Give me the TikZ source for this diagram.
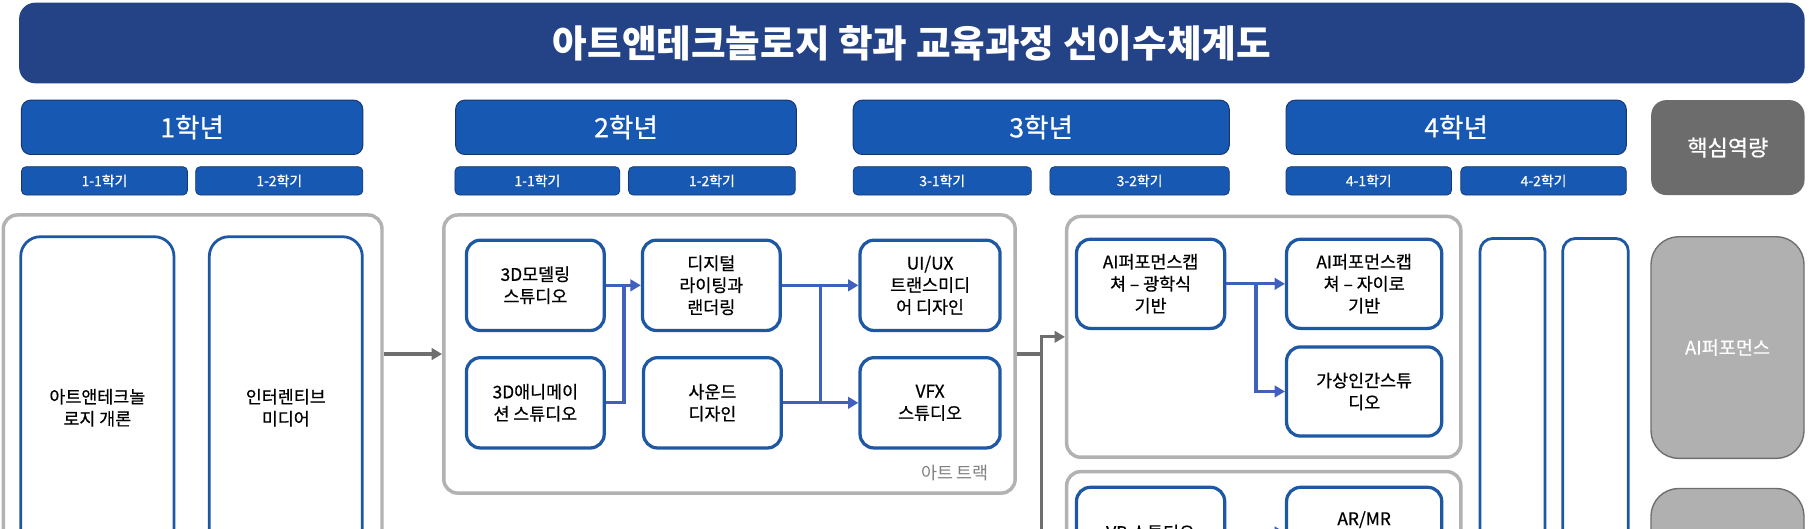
\documentclass[tikz,border=0pt]{standalone}
\usepackage{fontspec}
\setmainfont{Noto Sans CJK KR}
\newfontfamily\krmed{Noto Sans CJK KR}[FakeBold=0.6]
\usetikzlibrary{arrows.meta}
\definecolor{navy}{RGB}{36,66,134}
\definecolor{yearblue}{RGB}{22,88,178}
\definecolor{yearedge}{RGB}{24,54,110}
\definecolor{coursebl}{RGB}{30,88,164}
\definecolor{arrowbl}{RGB}{64,96,190}
\definecolor{grpgray}{RGB}{178,178,178}
\definecolor{darkgraytwo}{RGB}{110,110,110}
\definecolor{compfill}{RGB}{176,176,176}
\definecolor{coregray}{RGB}{108,108,108}
\definecolor{labelgray}{RGB}{128,128,128}
\begin{document}
\begin{tikzpicture}[x=1pt,y=-1pt,
  box/.style={rectangle, inner sep=0pt, align=center},
  titlebar/.style={box, fill=navy, rounded corners=14pt, text=white, font=\bfseries\fontsize{32.5}{38}\selectfont},
  yearbox/.style={box, fill=yearblue, draw=yearedge, line width=0.8pt, rounded corners=8pt, text=white, minimum height=47pt, font=\krmed\fontsize{23}{27}\selectfont},
  sembox/.style={box, fill=yearblue, draw=yearedge, line width=0.6pt, rounded corners=4pt, text=white, minimum height=24.5pt, font=\krmed\fontsize{12}{14}\selectfont},
  corebox/.style={box, fill=coregray, rounded corners=13pt, text=white, font=\krmed\fontsize{19}{23}\selectfont},
  grp/.style={box, draw=grpgray, line width=3pt, rounded corners=12pt},
  course/.style={box, draw=coursebl, line width=2.8pt, fill=white, rounded corners=12pt, font=\krmed\fontsize{15}{19}\selectfont},
  tallcourse/.style={course, line width=2.4pt, rounded corners=17pt},
  slim/.style={course, line width=2.4pt, rounded corners=11pt},
  comp/.style={box, fill=compfill, draw=darkgraytwo, line width=1.2pt, rounded corners=24pt, text=white, font=\krmed\fontsize{16}{20}\selectfont},
  bluearr/.style={draw=arrowbl, line width=2.8pt, -{Triangle[length=9pt,width=10pt]}},
  blueline/.style={draw=arrowbl, line width=2.8pt},
  grayarr/.style={draw=darkgraytwo, line width=2.8pt, -{Triangle[length=9pt,width=10pt]}},
  grayline/.style={draw=darkgraytwo, line width=2.8pt}
]
\useasboundingbox (0,0) rectangle (1568,457);
\clip (0,0) rectangle (1568,457);
\fill[white] (0,0) rectangle (1568,457);

% title
\node[titlebar, minimum width=1542.5pt, minimum height=69.7pt] (title) at (787.75,37.15) {아트앤테크놀로지 학과 교육과정 선이수체계도};

% years
\node[yearbox, minimum width=295pt] (y1) at (166,110) {1학년};
\node[yearbox, minimum width=294.4pt] (y2) at (540.8,110) {2학년};
\node[yearbox, minimum width=325pt] (y3) at (899.5,110) {3학년};
\node[yearbox, minimum width=294pt] (y4) at (1258,110) {4학년};
\node[corebox, minimum width=132.5pt, minimum height=82pt] (core) at (1492.7,127.5) {핵심역량};

% semesters
\node[sembox, minimum width=143.5pt] (s11) at (90.25,156.25) {1-1학기};
\node[sembox, minimum width=144.5pt] (s12) at (241.25,156.25) {1-2학기};
\node[sembox, minimum width=142.5pt] (s21) at (464.25,156.25) {1-1학기};
\node[sembox, minimum width=144pt] (s22) at (615,156.25) {1-2학기};
\node[sembox, minimum width=154pt] (s31) at (814,156.25) {3-1학기};
\node[sembox, minimum width=155pt] (s32) at (984.5,156.25) {3-2학기};
\node[sembox, minimum width=143pt] (s41) at (1182.5,156.25) {4-1학기};
\node[sembox, minimum width=143pt] (s42) at (1333.5,156.25) {4-2학기};

% groups
\node[grp, minimum width=327.1pt, minimum height=334.3pt] (grp1) at (166.45,352.85) {};
\node[grp, minimum width=493.6pt, minimum height=240.3pt] (art) at (630.2,305.85) {};
\node[grp, minimum width=340.5pt, minimum height=208pt] (aigrp) at (1091.75,291) {};
\node[grp, minimum width=340.5pt, minimum height=212.5pt] (vrgrp) at (1091.75,513.75) {};

% year 1
\node[tallcourse, minimum width=132.4pt, minimum height=295.5pt] (intro) at (84.1,352.25) {아트앤테크놀\\로지 개론};
\node[tallcourse, minimum width=132.2pt, minimum height=295.5pt] (inter) at (246.9,352.25) {인터렌티브\\미디어};

% art track
\node[course, minimum width=119pt, minimum height=78pt] (m3d) at (462.5,246.5) {3D모델링\\스튜디오};
\node[course, minimum width=119pt, minimum height=78pt] (ani) at (462.5,348) {3D애니메이\\션 스튜디오};
\node[course, minimum width=119pt, minimum height=78pt] (dig) at (614.5,246.5) {디지털\\라이팅과\\랜더링};
\node[course, minimum width=119pt, minimum height=78pt] (snd) at (615.5,348) {사운드\\디자인};
\node[course, minimum width=121pt, minimum height=78pt] (uiux) at (803.5,246.5) {UI/UX\\트랜스미디\\어 디자인};
\node[course, minimum width=121pt, minimum height=78pt] (vfx) at (803.5,348) {VFX\\스튜디오};
\node[text=labelgray, font=\fontsize{15}{18}\selectfont, inner sep=0pt] (artlbl) at (825,409) {아트 트랙};

% AI track
\node[course, minimum width=128pt, minimum height=77pt] (opt) at (994,245.2) {AI퍼포먼스캡\\쳐 – 광학식\\기반};
\node[course, minimum width=134pt, minimum height=77pt] (gyro) at (1178.5,245.2) {AI퍼포먼스캡\\쳐 – 자이로\\기반};
\node[course, minimum width=134pt, minimum height=77pt] (vh) at (1178.5,338.2) {가상인간스튜\\디오};

% VR track
\node[course, minimum width=128pt, minimum height=78pt] (vr) at (994,460) {VR 스튜디오};
\node[course, minimum width=134pt, minimum height=78pt] (armr) at (1178.5,460) {AR/MR\\\strut};

% year 4 columns
\node[slim, minimum width=56.1pt, minimum height=294pt] (c41) at (1306.65,353) {};
\node[slim, minimum width=56.7pt, minimum height=294pt] (c42) at (1378.35,353) {};

% competencies
\node[comp, minimum width=132.2pt, minimum height=191.5pt] (aiperf) at (1492.4,300.25) {AI퍼포먼스};
\node[comp, minimum width=132.2pt, minimum height=198pt] (comp2) at (1492.4,521) {};

% junction coordinates
\coordinate (j1) at (539,246.5);
\coordinate (j2a) at (709,246.5);
\coordinate (j2b) at (709,348);
\coordinate (j3) at (1085,245.2);
\coordinate (j4) at (899.5,305.85);
\coordinate (g2) at (899.5,490);

% connectors
\draw[grayarr] (grp1.east |- art.west) -- (art.west);
\draw[bluearr] (m3d.east) -- (dig.west);
\draw[blueline] (ani.east) -| (j1);
\draw[bluearr] (dig.east) -- (uiux.west);
\draw[bluearr] (snd.east) -- (vfx.west);
\draw[blueline] (j2a) -- (j2b);
\draw[grayline] (art.east) -- (j4);
\draw[grayarr] (g2) |- (aigrp.west);
\draw[bluearr] (opt.east) -- (gyro.west);
\draw[bluearr] (j3) |- (vh.west);
\draw[bluearr] (vr.east) -- (armr.west);
\end{tikzpicture}
\end{document}
